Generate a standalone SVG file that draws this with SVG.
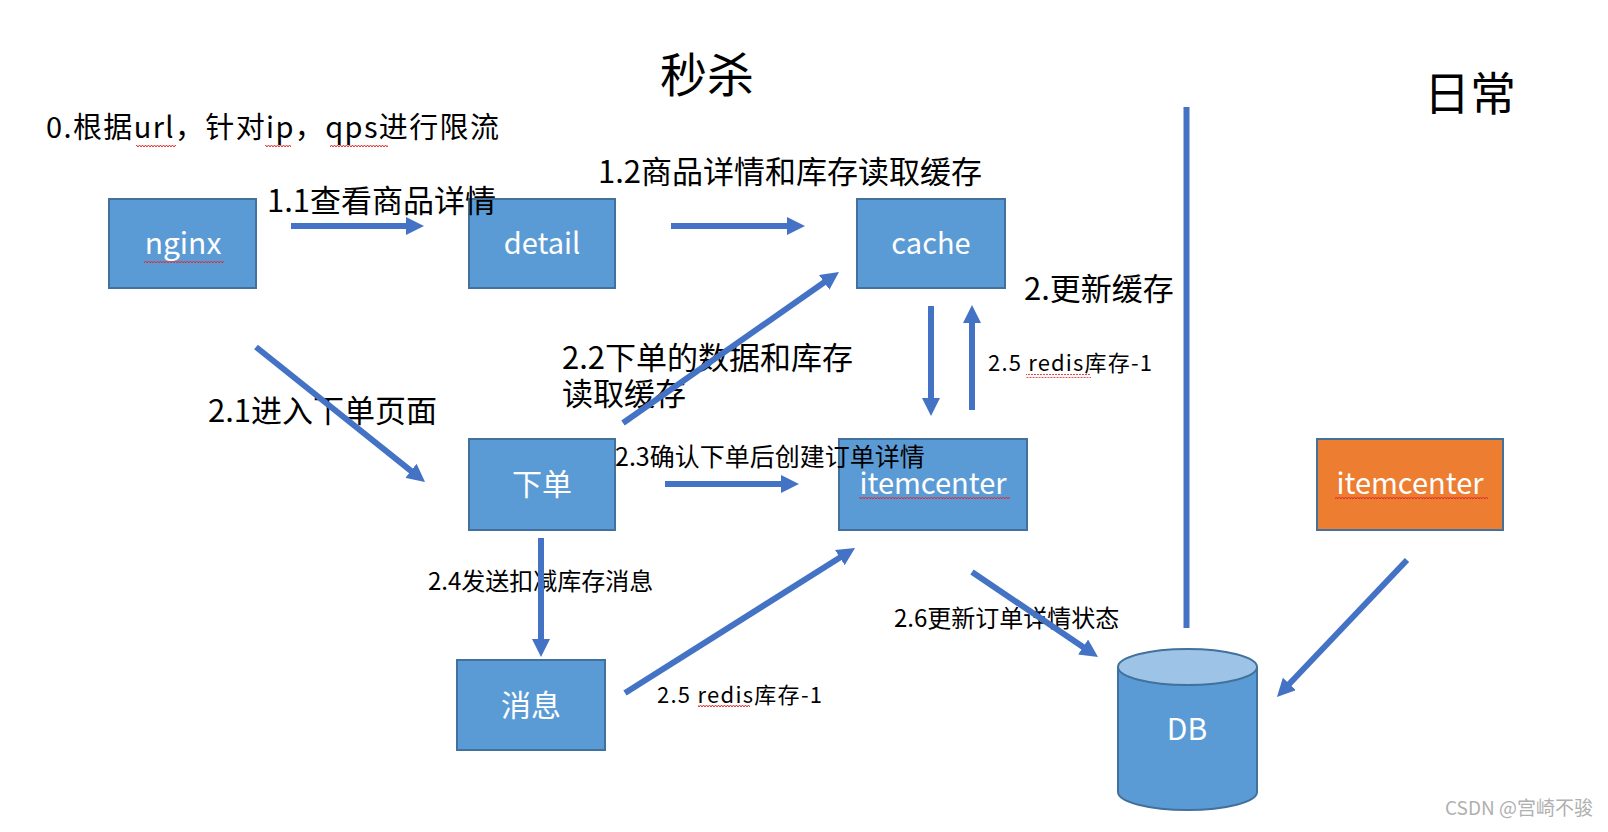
<svg xmlns="http://www.w3.org/2000/svg" width="1608" height="832" viewBox="0 0 1608 832">
<style>
text{font-family:"Noto Sans CJK SC","Noto Sans",sans-serif;fill:#000}
.box{fill:#5B9BD5;stroke:#41719C;stroke-width:2}
.org{fill:#ED7D31;stroke:#41719C;stroke-width:2}
.lbl{fill:#fff;text-anchor:middle}
.conn{stroke:#4472C4;stroke-width:6;fill:none}
.wave{fill:url(#wave)}
</style>
<defs>
<marker id="ah" markerUnits="userSpaceOnUse" viewBox="0 0 18 18" markerWidth="18" markerHeight="18" refX="4" refY="9" orient="auto">
<path d="M0,0 L18,9 L0,18 z" fill="#4472C4"/>
</marker>
<pattern id="wave" width="6" height="4" patternUnits="userSpaceOnUse">
<path d="M0,3 L1.5,1 L3,3 L4.5,1 L6,3" stroke="#E03030" stroke-width="1" fill="none"/>
</pattern>
</defs>
<rect width="1608" height="832" fill="#fff"/>

<text x="707" y="92" font-size="47" text-anchor="middle">秒杀</text>
<text x="1470" y="110" font-size="46" text-anchor="middle">日常</text>
<text x="46" y="138" font-size="29" textLength="453" lengthAdjust="spacing">0.根据url，针对ip，qps进行限流</text>

<g id="nginx"><rect class="box" x="109" y="199" width="147" height="89"/><text class="lbl" x="183" y="254" font-size="30">nginx</text></g>
<g id="detail"><rect class="box" x="469" y="199" width="146" height="89"/><text class="lbl" x="542" y="254" font-size="29">detail</text></g>
<g id="cache"><rect class="box" x="857" y="199" width="148" height="89"/><text class="lbl" x="931" y="254" font-size="29">cache</text></g>
<g id="order"><rect class="box" x="469" y="439" width="146" height="91"/><text class="lbl" x="542" y="495" font-size="30">下单</text></g>
<g id="itemcenter"><rect class="box" x="839" y="439" width="188" height="91"/><text class="lbl" x="933" y="494" font-size="29">itemcenter</text></g>
<g id="message"><rect class="box" x="457" y="660" width="148" height="90"/><text class="lbl" x="531" y="716" font-size="30">消息</text></g>
<g id="itemcenter-daily"><rect class="org" x="1317" y="439" width="186" height="91"/><text class="lbl" x="1410" y="494" font-size="29">itemcenter</text></g>
<g id="db">
<path class="box" d="M1118,667 L1118,792 A69.5,18 0 0 0 1257,792 L1257,667"/>
<ellipse cx="1187.5" cy="667" rx="69.5" ry="18" fill="#9DC3E6" stroke="#41719C" stroke-width="2"/>
<text class="lbl" x="1187" y="740" font-size="30">DB</text>
</g>

<g id="edge-labels">
<text x="267" y="212" font-size="31">1.1查看商品详情</text>
<text x="598" y="183" font-size="31">1.2商品详情和库存读取缓存</text>
<text x="1024" y="300" font-size="31">2.更新缓存</text>
<text x="988" y="371" font-size="22" textLength="164" lengthAdjust="spacing">2.5 redis库存-1</text>
<text x="562" y="369" font-size="31">2.2下单的数据和库存</text>
<text x="562" y="405" font-size="31">读取缓存</text>
<text x="208" y="422" font-size="31">2.1进入下单页面</text>
<text x="615" y="466" font-size="25">2.3确认下单后创建订单详情</text>
<text x="428" y="590" font-size="24">2.4发送扣减库存消息</text>
<text x="657" y="703" font-size="22" textLength="165" lengthAdjust="spacing">2.5 redis库存-1</text>
<text x="894" y="627" font-size="24">2.6更新订单详情状态</text>
</g>

<g id="connectors">
<line class="conn" x1="291" y1="226" x2="410" y2="226" marker-end="url(#ah)"/>
<line class="conn" x1="671" y1="226" x2="791" y2="226" marker-end="url(#ah)"/>
<line class="conn" x1="931" y1="306" x2="931" y2="402" marker-end="url(#ah)"/>
<line class="conn" x1="972" y1="410" x2="972" y2="319" marker-end="url(#ah)"/>
<line class="conn" x1="623" y1="423" x2="827.5" y2="280" marker-end="url(#ah)"/>
<line class="conn" x1="256" y1="347" x2="414.1" y2="473.3" marker-end="url(#ah)"/>
<line class="conn" x1="665" y1="484" x2="785" y2="484" marker-end="url(#ah)"/>
<line class="conn" x1="541" y1="538" x2="541" y2="643" marker-end="url(#ah)"/>
<line class="conn" x1="625" y1="693" x2="843.2" y2="555.5" marker-end="url(#ah)"/>
<line class="conn" x1="972" y1="572" x2="1086.4" y2="649.2" marker-end="url(#ah)"/>
<line class="conn" x1="1407" y1="560" x2="1286.6" y2="686.8" marker-end="url(#ah)"/>
<line class="conn" x1="1186.5" y1="107" x2="1186.5" y2="628" stroke-width="7"/>
</g>

<g id="spellcheck">
<rect class="wave" x="136" y="144" width="40" height="4"/>
<rect class="wave" x="265" y="144" width="26" height="4"/>
<rect class="wave" x="330" y="144" width="58" height="4"/>
<rect class="wave" x="144" y="260" width="80" height="4"/>
<rect class="wave" x="859" y="497" width="151" height="4"/>
<rect class="wave" x="1335" y="497" width="153" height="4"/>
<rect class="wave" x="1026" y="374" width="65" height="4"/>
<rect class="wave" x="698" y="705" width="52" height="4"/>
</g>

<text x="1593" y="815" font-size="19" style="fill:#B0B0B0" text-anchor="end">CSDN @宫崎不骏</text>
</svg>
